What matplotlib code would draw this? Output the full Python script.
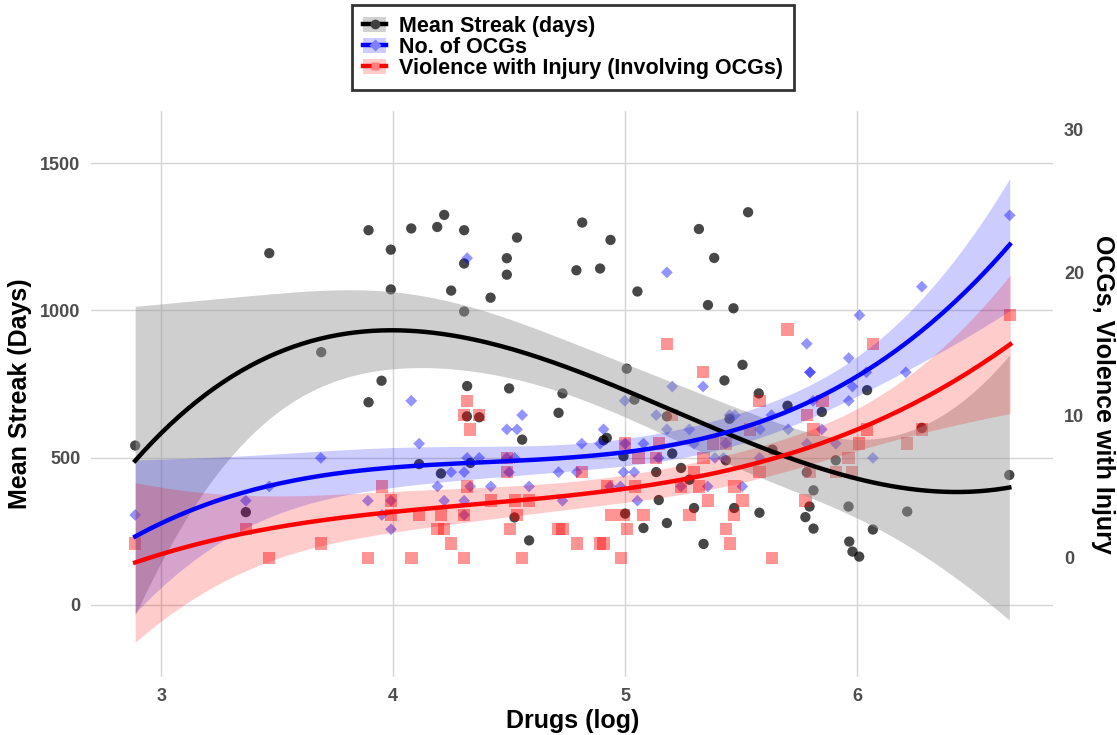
"""Mean streak vs drugs (log), with OCG counts and violence on a second axis."""

import matplotlib
matplotlib.use("Agg")
import matplotlib.pyplot as plt
import numpy as np
from matplotlib.lines import Line2D
from matplotlib.patches import Patch

plt.rcParams["font.family"] = ["Liberation Sans", "DejaVu Sans"]

# --- data ---
streak_x = [2.888, 3.365, 3.466, 3.69, 3.894, 3.894, 3.95, 3.99, 3.99, 4.078,
            4.112, 4.19, 4.206, 4.22, 4.25, 4.306, 4.306, 4.306, 4.318, 4.319,
            4.333, 4.371, 4.42, 4.49, 4.49, 4.50, 4.523, 4.534, 4.556, 4.586,
            4.713, 4.73, 4.79, 4.815, 4.892, 4.907, 4.921, 4.937, 4.993, 5.0,
            5.007, 5.04, 5.053, 5.079, 5.134, 5.145, 5.18, 5.18, 5.203, 5.241,
            5.277, 5.297, 5.318, 5.338, 5.357, 5.384, 5.428, 5.434, 5.45, 5.467,
            5.47, 5.506, 5.53, 5.576, 5.579, 5.635, 5.70, 5.777, 5.783, 5.795,
            5.812, 5.812, 5.848, 5.908, 5.963, 5.966, 5.98, 6.009, 6.043, 6.068,
            6.216, 6.279, 6.656]
streak = [541, 315, 1194, 858, 1272, 688, 761, 1206, 1071, 1278,
          478, 1283, 446, 1324, 1067, 1272, 1159, 996, 640, 743,
          482, 637, 1043, 1177, 1121, 735, 297, 1247, 561, 219,
          652, 718, 1136, 1298, 1142, 559, 567, 1239, 505, 310,
          802, 697, 1064, 261, 451, 356, 640, 278, 514, 465,
          425, 329, 1276, 207, 1018, 1178, 762, 491, 632, 1007,
          329, 815, 1333, 718, 313, 527, 676, 298, 450, 334,
          389, 259, 655, 491, 334, 215, 181, 164, 729, 256,
          317, 601, 441]

ocg_x = [2.888, 3.365, 3.466, 3.688, 3.891, 3.951, 3.991, 3.991, 4.078, 4.112,
         4.191, 4.22, 4.25, 4.306, 4.306, 4.306, 4.319, 4.319, 4.332, 4.371,
         4.421, 4.49, 4.49, 4.5, 4.523, 4.534, 4.556, 4.586, 4.713, 4.73,
         4.792, 4.813, 4.892, 4.907, 4.935, 4.98, 4.993, 4.998, 5.0, 5.039,
         5.053, 5.079, 5.134, 5.145, 5.18, 5.18, 5.203, 5.241, 5.277, 5.297,
         5.336, 5.356, 5.387, 5.424, 5.434, 5.45, 5.473, 5.505, 5.579, 5.582,
         5.631, 5.703, 5.783, 5.783, 5.797, 5.797, 5.81, 5.848, 5.908, 5.964,
         5.964, 5.98, 6.01, 6.04, 6.068, 6.21, 6.279, 6.658]
ocg = [3, 4, 5, 7, 4, 3, 4, 2, 11, 8,
       5, 4, 6, 6, 4, 3, 7, 21, 5, 7,
       5, 9, 7, 6, 7, 9, 10, 5, 6, 4,
       6, 8, 8, 9, 5, 5, 6, 11, 8, 6,
       4, 8, 10, 7, 9, 20, 12, 5, 9, 8,
       12, 5, 7, 7, 8, 10, 10, 5, 7, 9,
       10, 9, 8, 15, 13, 13, 11, 9, 8, 14,
       11, 12, 17, 13, 7, 13, 19, 24]

viol_x = [2.888, 3.365, 3.466, 3.688, 3.891, 3.951, 3.991, 3.991, 4.079, 4.112,
          4.191, 4.206, 4.22, 4.25, 4.306, 4.306, 4.306, 4.319, 4.319, 4.332,
          4.371, 4.421, 4.49, 4.49, 4.504, 4.526, 4.534, 4.556, 4.586, 4.713,
          4.73, 4.792, 4.813, 4.892, 4.907, 4.921, 4.938, 4.981, 4.993, 5.0,
          5.007, 5.043, 5.057, 5.079, 5.134, 5.147, 5.18, 5.201, 5.241, 5.277,
          5.297, 5.319, 5.336, 5.338, 5.356, 5.38, 5.434, 5.434, 5.453, 5.47,
          5.471, 5.506, 5.539, 5.579, 5.58, 5.632, 5.70, 5.777, 5.783, 5.797,
          5.812, 5.85, 5.908, 5.963, 5.977, 6.009, 6.042, 6.069, 6.216, 6.279,
          6.66]
viol = [1, 2, 0, 1, 0, 5, 4, 3, 0, 3,
        2, 3, 2, 1, 10, 3, 0, 11, 5, 9,
        10, 4, 7, 6, 2, 4, 3, 0, 4, 2,
        2, 1, 6, 1, 1, 5, 3, 0, 3, 8,
        2, 5, 7, 3, 7, 8, 15, 10, 5, 3,
        6, 5, 13, 7, 4, 8, 8, 2, 1, 3,
        5, 4, 9, 6, 11, 0, 16, 4, 10, 6,
        9, 11, 6, 7, 6, 8, 9, 15, 8, 9,
        17]

# secondary axis: counts -> streak units
SEC_SCALE = 48.44
SEC_SHIFT = 160.0


def to_left(r):
    return np.asarray(r, dtype=float) * SEC_SCALE + SEC_SHIFT


def to_right(v):
    return (np.asarray(v, dtype=float) - SEC_SHIFT) / SEC_SCALE


def poly_smooth(x, y, deg=3, n=200, tq=1.99):
    """Cubic lm fit with ~95% confidence band (geom_smooth(method='lm', y ~ poly(x, 3)))."""
    x = np.asarray(x, dtype=float)
    y = np.asarray(y, dtype=float)
    xc = x.mean()
    X = np.vander(x - xc, deg + 1)
    beta, *_ = np.linalg.lstsq(X, y, rcond=None)
    resid = y - X @ beta
    s2 = resid @ resid / (len(x) - deg - 1)
    cov = s2 * np.linalg.inv(X.T @ X)
    grid = np.linspace(x.min(), x.max(), n)
    G = np.vander(grid - xc, deg + 1)
    fit = G @ beta
    se = np.sqrt(np.einsum("ij,jk,ik->i", G, cov, G))
    return grid, fit, fit - tq * se, fit + tq * se


fig = plt.figure(figsize=(11.17, 7.35), dpi=100)
ax = fig.add_axes([0.0819, 0.0792, 0.8608, 0.7691])

# points
ax.scatter(streak_x, streak, s=55, color="black", alpha=0.72, edgecolors="none", zorder=2)
ax.scatter(ocg_x, to_left(ocg), s=36, marker="D", color="blue", alpha=0.42,
           edgecolors="none", zorder=2)
ax.scatter(viol_x, to_left(viol), s=80, marker="s", color="red", alpha=0.42,
           edgecolors="none", zorder=2)

# smooths
gx, fit, lo, hi = poly_smooth(streak_x, streak)
ax.fill_between(gx, lo, hi, color="#999999", alpha=0.47, linewidth=0, zorder=3)
ax.plot(gx, fit, color="black", lw=3.2, zorder=4)

gx, fit, lo, hi = poly_smooth(ocg_x, ocg)
ax.fill_between(gx, to_left(lo), to_left(hi), color="blue", alpha=0.2, linewidth=0, zorder=3)
ax.plot(gx, to_left(fit), color="blue", lw=3.2, zorder=4)

gx, fit, lo, hi = poly_smooth(viol_x, viol)
ax.fill_between(gx, to_left(lo), to_left(hi), color="red", alpha=0.2, linewidth=0, zorder=3)
ax.plot(gx, to_left(fit), color="red", lw=3.2, zorder=4)

# axes styling (theme_minimal look)
xmin, xmax = min(streak_x), max(streak_x)
pad = (xmax - xmin) * 0.05
ax.set_xlim(xmin - pad, xmax + pad)
ax.set_ylim(-244, 1675)
ax.set_xticks([3, 4, 5, 6])
ax.set_yticks([0, 500, 1000, 1500])
ax.grid(True, color="#d4d4d4", lw=1.0, zorder=0)
ax.set_axisbelow(True)
for sp in ax.spines.values():
    sp.set_visible(False)
ax.tick_params(length=0, labelsize=13, labelcolor="#4d4d4d", pad=8)
for lab in ax.get_xticklabels() + ax.get_yticklabels():
    lab.set_fontweight("bold")

ax.set_xlabel("Drugs (log)", fontsize=18, fontweight="bold", labelpad=3)
ax.set_ylabel("Mean Streak (Days)", fontsize=18, fontweight="bold", labelpad=6)

sec = ax.secondary_yaxis("right", functions=(to_right, to_left))
sec.set_yticks([0, 10, 20, 30])
for sp in sec.spines.values():
    sp.set_visible(False)
sec.tick_params(length=0, labelsize=13, labelcolor="#4d4d4d", pad=8)
for lab in sec.get_yticklabels():
    lab.set_fontweight("bold")
sec.set_ylabel("OCGs, Violence with Injury", fontsize=18, fontweight="bold",
               rotation=-90, labelpad=22)

# legend
handles = [
    (Patch(color="#999999", alpha=0.45, lw=0),
     Line2D([], [], color="black", lw=3.2, marker="o", ms=7, mfc="#404040", mec="none")),
    (Patch(color="blue", alpha=0.2, lw=0),
     Line2D([], [], color="blue", lw=3.2, marker="D", ms=6, mfc="#8080ff", mec="none")),
    (Patch(color="red", alpha=0.2, lw=0),
     Line2D([], [], color="red", lw=3.2, marker="s", ms=6, mfc="#ff8080", mec="none")),
]
labels = ["Mean Streak (days)", "No. of OCGs", "Violence with Injury (Involving OCGs)"]
leg = fig.legend(handles, labels, loc="upper center", bbox_to_anchor=(0.513, 0.993),
                 prop={"weight": "bold", "size": 15.5}, frameon=True, fancybox=False,
                 handlelength=1.05, handletextpad=0.6, labelspacing=0.0,
                 borderpad=0.5, borderaxespad=0)
leg.get_frame().set_edgecolor("black")
leg.get_frame().set_linewidth(2.0)

fig.savefig("out.png", dpi=100)
